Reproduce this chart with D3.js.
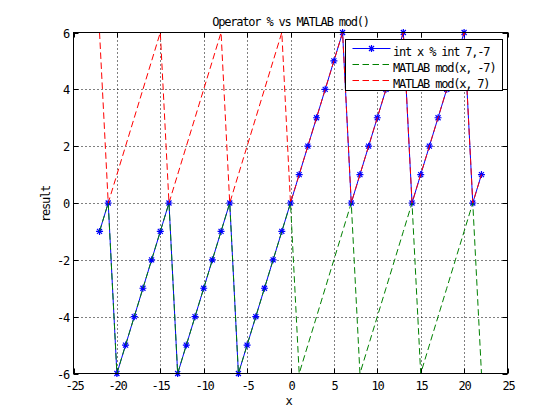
<!DOCTYPE html>
<html><head><meta charset="utf-8">
<script src="https://cdn.jsdelivr.net/npm/d3@7"></script>
<style>
body{margin:0;background:#fff;}
text{font-family:"DejaVu Sans Mono",monospace;font-size:12px;letter-spacing:-1.2px;fill:#000;}
</style></head><body>
<svg id="c" width="560" height="420"></svg>
<script>
const xs      = [-22,-21,-20,-19,-18,-17,-16,-15,-14,-13,-12,-11,-10,-9,-8,-7,-6,-5,-4,-3,-2,-1,0,1,2,3,4,5,6,7,8,9,10,11,12,13,14,15,16,17,18,19,20,21,22];
const cRem    = [-1,0,-6,-5,-4,-3,-2,-1,0,-6,-5,-4,-3,-2,-1,0,-6,-5,-4,-3,-2,-1,0,1,2,3,4,5,6,0,1,2,3,4,5,6,0,1,2,3,4,5,6,0,1];
const modNeg7 = [-1,0,-6,-5,-4,-3,-2,-1,0,-6,-5,-4,-3,-2,-1,0,-6,-5,-4,-3,-2,-1,0,-6,-5,-4,-3,-2,-1,0,-6,-5,-4,-3,-2,-1,0,-6,-5,-4,-3,-2,-1,0,-6];
const modPos7 = [6,0,1,2,3,4,5,6,0,1,2,3,4,5,6,0,1,2,3,4,5,6,0,1,2,3,4,5,6,0,1,2,3,4,5,6,0,1,2,3,4,5,6,0,1];
const xTicks  = [-25,-20,-15,-10,-5,0,5,10,15,20,25];
const yTicks  = [-6,-4,-2,0,2,4,6];
const legendLabels = ["int x % int 7,-7","MATLAB mod(x, -7)","MATLAB mod(x, 7)"];
const titleText = "Operator % vs MATLAB mod()";

const svg = d3.select("#c");
const L=73.5,R=507.5,T=32.5,B=373.5;
const x = d3.scaleLinear().domain([-25,25]).range([L,R]);
const y = d3.scaleLinear().domain([-6,6]).range([B,T]);

svg.append("rect").attr("x",L).attr("y",T).attr("width",R-L).attr("height",B-T).attr("fill","#fff");

// grid
const g = svg.append("g");
xTicks.slice(1,-1).forEach(t=>{
  g.append("line").attr("x1",Math.round(x(t))+0.5).attr("x2",Math.round(x(t))+0.5).attr("y1",T).attr("y2",B)
   .attr("stroke","#000").attr("stroke-dasharray","1,3");
});
yTicks.slice(1,-1).forEach(t=>{
  g.append("line").attr("y1",Math.round(y(t))+0.5).attr("y2",Math.round(y(t))+0.5).attr("x1",L).attr("x2",R)
   .attr("stroke","#000").attr("stroke-dasharray","1,3");
});

// ticks (inward, all sides)
const tl=5;
xTicks.forEach(t=>{
  const px=Math.round(x(t))+0.5;
  svg.append("line").attr("x1",px).attr("x2",px).attr("y1",B).attr("y2",B-tl).attr("stroke","#000");
  svg.append("line").attr("x1",px).attr("x2",px).attr("y1",T).attr("y2",T+tl).attr("stroke","#000");
  svg.append("text").attr("x",px).attr("y",389.5).attr("text-anchor","middle").text(t);
});
yTicks.forEach(t=>{
  const py=Math.round(y(t))+0.5;
  svg.append("line").attr("x1",L).attr("x2",L+tl).attr("y1",py).attr("y2",py).attr("stroke","#000");
  svg.append("line").attr("x1",R).attr("x2",R-tl).attr("y1",py).attr("y2",py).attr("stroke","#000");
  svg.append("text").attr("x",69).attr("y",py+4.5).attr("text-anchor","end").text(t);
});

const line = d3.line().x(d=>x(d[0])).y(d=>y(d[1]));
const ptsC = xs.map((v,i)=>[v,cRem[i]]);
const ptsN = xs.map((v,i)=>[v,modNeg7[i]]);
const ptsP = xs.map((v,i)=>[v,modPos7[i]]);

function star(cx,cy,r){
  const d=r*0.72;
  return `M${cx-r},${cy}L${cx+r},${cy}M${cx},${cy-r}L${cx},${cy+r}M${cx-d},${cy-d}L${cx+d},${cy+d}M${cx-d},${cy+d}L${cx+d},${cy-d}`;
}

svg.append("path").attr("d",line(ptsC)).attr("fill","none").attr("stroke","#0000ff").attr("stroke-width",1);
svg.append("path").attr("d",ptsC.map(p=>star(x(p[0]),y(p[1]),3.5)).join("")).attr("fill","none").attr("stroke","#0000ff").attr("stroke-width",1.2);
svg.append("path").attr("d",line(ptsN)).attr("fill","none").attr("stroke","#008000").attr("stroke-width",1).attr("stroke-dasharray","6.5,3.5");
svg.append("path").attr("d",line(ptsP)).attr("fill","none").attr("stroke","#ff0000").attr("stroke-width",1).attr("stroke-dasharray","6.5,3.5");

// axes box
svg.append("rect").attr("x",L).attr("y",T).attr("width",R-L).attr("height",B-T).attr("fill","none").attr("stroke","#000");

// labels
svg.append("text").attr("x",(L+R)/2).attr("y",26).attr("text-anchor","middle").text(titleText);
svg.append("text").attr("x",(L+R)/2-2).attr("y",405).attr("text-anchor","middle").text("x");
svg.append("text").attr("transform","translate(50,204) rotate(-90)").attr("text-anchor","middle").text("result");

// legend
const lg = svg.append("g");
lg.append("rect").attr("x",345.5).attr("y",39.5).attr("width",157).attr("height",51).attr("fill","#fff").attr("stroke","#000");
const colors=["#0000ff","#008000","#ff0000"];
const dashes=[null,"6.5,3.5","6.5,3.5"];
const rowY=[48.5,64.5,80.5];
legendLabels.forEach((lab,i)=>{
  const ln=lg.append("line").attr("x1",352.5).attr("x2",390.5).attr("y1",rowY[i]).attr("y2",rowY[i]).attr("stroke",colors[i]);
  if(dashes[i]) ln.attr("stroke-dasharray",dashes[i]);
  if(i===0) lg.append("path").attr("d",star(371.5,rowY[i],3.5)).attr("stroke",colors[i]).attr("stroke-width",1.2).attr("fill","none");
  lg.append("text").attr("x",393).attr("y",rowY[i]+7).text(lab);
});
</script></body></html>
